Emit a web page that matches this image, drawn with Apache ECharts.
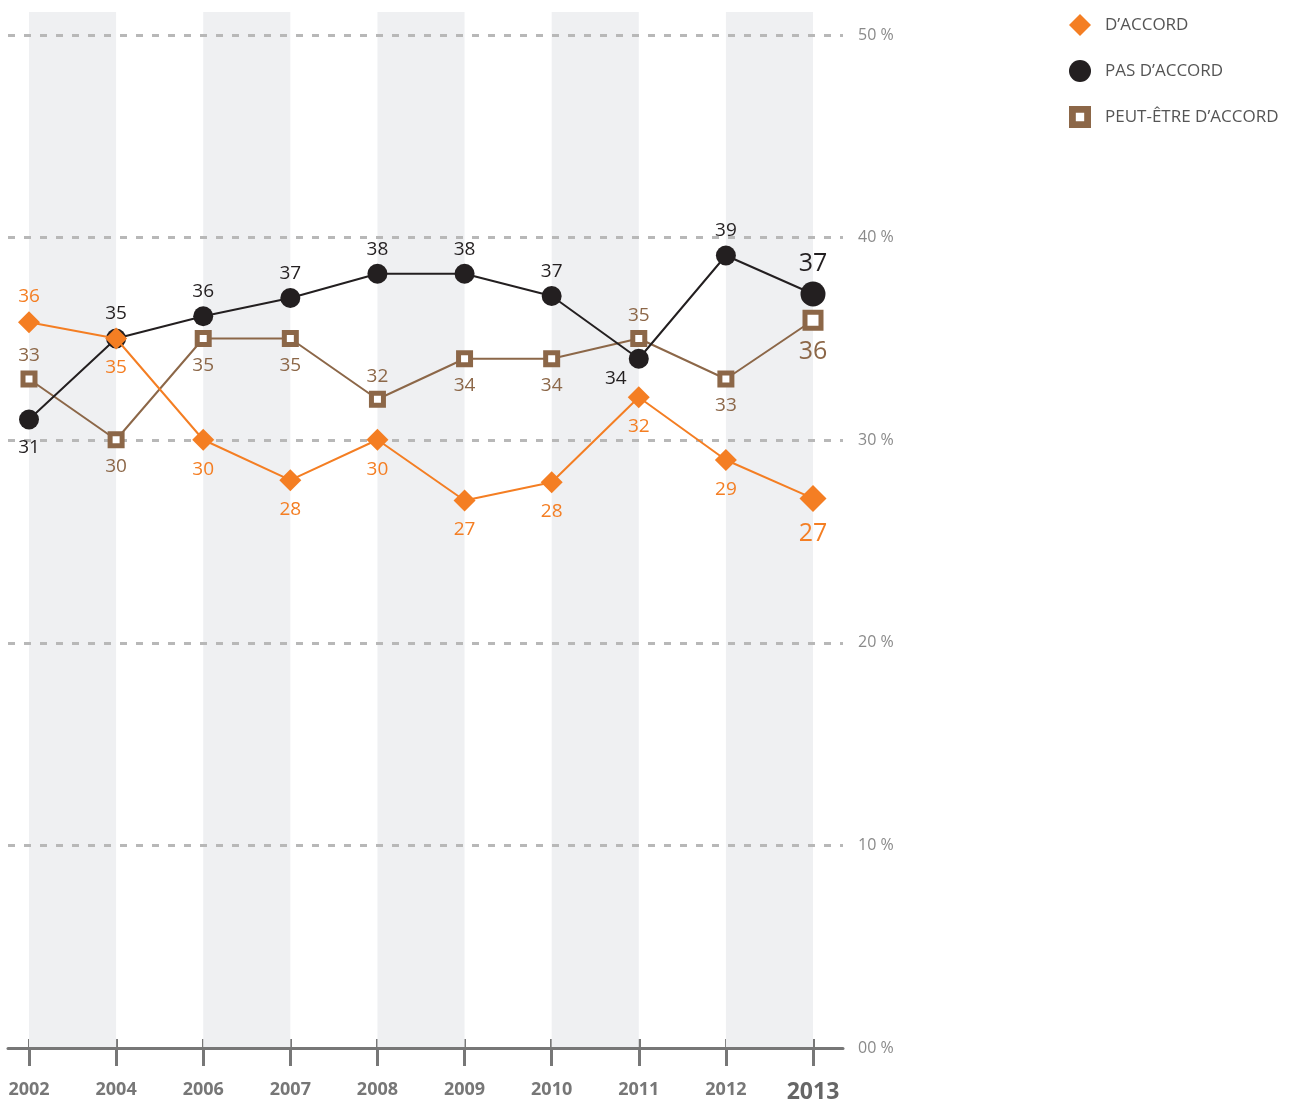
<!DOCTYPE html>
<html>
<head>
    <meta charset="utf-8">
    <title>D'accord / Pas d'accord</title>
    <script src="https://cdn.jsdelivr.net/npm/echarts@6/dist/echarts.min.js"></script>
    <style>
        html, body { margin: 0; padding: 0; background: #fff; }
        #chart { width: 1298px; height: 1104px; }
    </style>
</head>
<body>
<div id="chart"></div>
<script type="text/javascript">
    // années (espacement régulier, pas proportionnel au temps)
    var years = ['2002', '2004', '2006', '2007', '2008', '2009', '2010', '2011', '2012', '2013'];

    // valeurs en %
    var daccord = [35.8, 35, 30, 28, 30, 27, 27.9, 32.1, 29, 27.1];
    var pasDaccord = [31, 35, 36.1, 37, 38.2, 38.2, 37.1, 34, 39.1, 37.2];
    var peutEtre = [33, 30, 35, 35, 32, 34, 34, 35, 33, 35.9];

    // côté de l'étiquette pour chaque point
    var daccordSide = ['top', 'bottom', 'bottom', 'bottom', 'bottom', 'bottom', 'bottom', 'bottom', 'bottom', 'bottom'];
    var pasSide = ['bottom', 'top', 'top', 'top', 'top', 'top', 'top', 'left', 'top', 'top'];
    var peutSide = ['top', 'bottom', 'bottom', 'bottom', 'top', 'bottom', 'bottom', 'top', 'bottom', 'bottom'];

    // bandes grises
    var bands = [['2002', '2004'], ['2006', '2007'], ['2008', '2009'], ['2010', '2011'], ['2012', '2013']];

    var yTicks = [0, 10, 20, 30, 40, 50];

    var FONT = '"Open Sans", "Noto Sans", sans-serif';
    var ORANGE = '#f47e23', NOIR = '#231f20', BRUN = '#8c6748';
    var last = years.length - 1;

    // construit les points avec étiquette (le dernier plus grand)
    function buildData(values, sides, bigSize) {
        return values.map(function (v, i) {
            var side = sides[i];
            var lab = { position: side === 'left' ? 'bottom' : side, distance: side === 'bottom' ? 9 : 5 };
            if (side === 'left') {
                lab.offset = [-23, -5];
            }
            var item = { value: v, label: lab };
            if (i === last) {
                item.symbolSize = bigSize;
                lab.fontSize = 25;
            }
            return item;
        });
    }

    var myChart = echarts.init(document.getElementById('chart'));

    myChart.setOption({
        animation: false,
        textStyle: { fontFamily: FONT },
        legend: {
            orient: 'vertical',
            left: 1064,
            top: 9,
            itemGap: 24,
            itemWidth: 22,
            itemHeight: 22,
            textStyle: { fontSize: 17, color: '#555', fontFamily: FONT, padding: [0, 0, 0, 9] },
            data: [
                { name: 'D\u2019ACCORD', icon: 'diamond', itemStyle: { color: ORANGE } },
                { name: 'PAS D\u2019ACCORD', icon: 'circle', itemStyle: { color: NOIR } },
                { name: 'PEUT-\u00caTRE D\u2019ACCORD', icon: 'path://M0 0H21V21H0ZM6.5 6.5V14.5H14.5V6.5Z',
                    itemStyle: { color: BRUN, borderWidth: 0 } }
            ]
        },
        grid: [
            { left: 29, right: 485, top: 12, bottom: 56 },
            { left: 8, right: 455, top: 35, bottom: 56 }
        ],
        xAxis: [
            {
                type: 'category', gridIndex: 0, boundaryGap: false,
                data: years.map(function (y, i) {
                    return i === last ? { value: y, textStyle: { fontSize: 23, color: '#666' } } : y;
                }),
                axisLine: { show: false },
                axisTick: { show: true, length: 19, lineStyle: { color: '#777', width: 3 } },
                axisLabel: { margin: 34, fontSize: 18, fontWeight: 'bold', color: '#777', fontFamily: FONT },
                splitLine: { show: false }
            },
            {
                type: 'category', gridIndex: 0, boundaryGap: false, position: 'bottom',
                data: years,
                axisLine: { show: false },
                axisTick: { show: true, inside: true, length: 8, lineStyle: { color: '#777', width: 3 } },
                axisLabel: { show: false },
                splitLine: { show: false }
            },
            {
                type: 'value', gridIndex: 1, min: 0, max: 1, z: 2,
                axisLine: { show: true, lineStyle: { color: '#777', width: 3 } },
                axisTick: { show: false },
                axisLabel: { show: false },
                splitLine: { show: false }
            }
        ],
        yAxis: [
            { type: 'value', gridIndex: 0, min: 0, max: 51.13, show: false },
            {
                type: 'value', gridIndex: 1, position: 'right', z: 2,
                min: yTicks[0], max: yTicks[yTicks.length - 1], interval: 10,
                axisLine: { show: false },
                axisTick: { show: false },
                axisLabel: {
                    margin: 15, fontSize: 16, color: '#8a8a8a', fontFamily: FONT,
                    formatter: function (v) { return (v === 0 ? '00' : v) + ' %'; }
                },
                splitLine: { show: true, lineStyle: { color: '#b8b8b8', width: 3, type: [7, 9] } }
            }
        ],
        series: [
            {
                name: 'bandes', type: 'line', xAxisIndex: 0, yAxisIndex: 0, data: [],
                silent: true, z: 1,
                markArea: {
                    silent: true, z: 1,
                    itemStyle: { color: '#eff0f2' },
                    data: bands.map(function (b) { return [{ xAxis: b[0] }, { xAxis: b[1] }]; })
                }
            },
            {
                name: 'PEUT-\u00caTRE D\u2019ACCORD', type: 'line', xAxisIndex: 0, yAxisIndex: 0, z: 3,
                symbol: 'rect', symbolSize: 12,
                color: BRUN,
                itemStyle: { color: '#fff', borderColor: BRUN, borderWidth: 5 },
                lineStyle: { color: BRUN, width: 2 },
                label: { show: true, fontSize: 19, color: BRUN, fontFamily: FONT,
                    formatter: function (p) { return Math.round(p.value); } },
                data: buildData(peutEtre, peutSide, 16)
            },
            {
                name: 'PAS D\u2019ACCORD', type: 'line', xAxisIndex: 0, yAxisIndex: 0, z: 4,
                symbol: 'circle', symbolSize: 20,
                color: NOIR,
                itemStyle: { color: NOIR },
                lineStyle: { color: NOIR, width: 2 },
                label: { show: true, fontSize: 19, color: NOIR, fontFamily: FONT,
                    formatter: function (p) { return Math.round(p.value); } },
                data: buildData(pasDaccord, pasSide, 25)
            },
            {
                name: 'D\u2019ACCORD', type: 'line', xAxisIndex: 0, yAxisIndex: 0, z: 5,
                symbol: 'diamond', symbolSize: 22,
                color: ORANGE,
                itemStyle: { color: ORANGE },
                lineStyle: { color: ORANGE, width: 2 },
                label: { show: true, fontSize: 19, color: ORANGE, fontFamily: FONT,
                    formatter: function (p) { return Math.round(p.value); } },
                data: buildData(daccord, daccordSide, 27)
            }
        ]
    });
</script>
</body>
</html>
